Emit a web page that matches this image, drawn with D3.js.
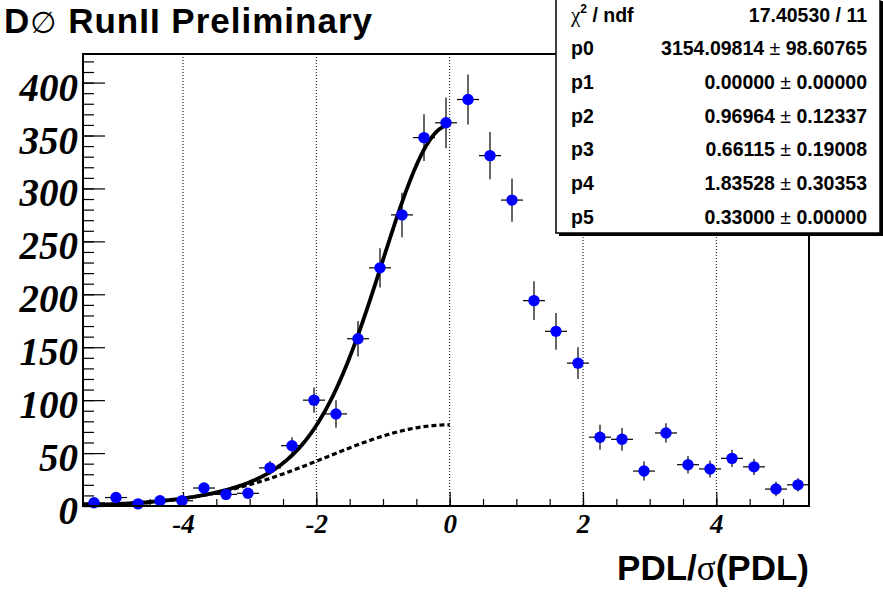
<!DOCTYPE html>
<html>
<head>
<meta charset="utf-8">
<script src="https://cdn.jsdelivr.net/npm/d3@7"></script>
<style>
  html, body { margin: 0; padding: 0; background: #fff; }
  svg { display: block; }
</style>
</head>
<body>
<svg id="chart" width="883" height="592"></svg>
<script>
// histogram bins (centres) and contents
const binCenters = [-5.335, -5.005, -4.675, -4.345, -4.015, -3.685, -3.355, -3.025, -2.695, -2.365,
  -2.035, -1.705, -1.375, -1.045, -0.715, -0.385, -0.055, 0.275, 0.605, 0.935,
  1.265, 1.595, 1.925, 2.255, 2.585, 2.915, 3.245, 3.575, 3.905, 4.235, 4.565, 4.895, 5.225]
const counts = [3, 8, 2, 5, 5, 17, 11, 12, 36, 57,
  100, 87, 158, 225, 275, 348, 362, 384, 331, 289,
  194, 165, 135, 65, 63, 33, 69, 39, 35, 45, 37, 16, 20]
const countErrors = [2.5, 3.5, 2, 3, 3, 5, 4.5, 4.5, 6.5, 8,
  12, 13, 16.7, 18.6, 21, 22, 24, 23.6, 22.4, 20.5,
  18.4, 17.3, 15, 11.8, 10.7, 9, 9.1, 8.2, 8, 8.2, 7.6, 6.9, 6.3]
const halfBin = 0.165

// fit result shown in the stats box
const fitNames = ["p0", "p1", "p2", "p3", "p4", "p5"]
const fitParams = [3154.09814, 0.0, 0.96964, 0.66115, 1.83528, 0.33]
const fitErrors = [98.60765, 0.0, 0.12337, 0.19008, 0.30353, 0.0]
const chi2 = 17.4053
const ndf = 11

const xTicksMajor = [-4, -2, 0, 2, 4]
const yTicksMajor = [0, 50, 100, 150, 200, 250, 300, 350, 400]

const svg = d3.select("#chart")
const m = {left: 83, right: 809, top: 54, bottom: 506}

const x = d3.scaleLinear().domain([-5.5, 5.39]).range([m.left, m.right])
const y = d3.scaleLinear().domain([0, 427]).range([m.bottom, m.top])

// vertical dotted grid
svg.append("g")
  .selectAll("line")
  .data(xTicksMajor)
  .join("line")
  .attr("x1", (d) => x(d))
  .attr("x2", (d) => x(d))
  .attr("y1", m.top)
  .attr("y2", m.bottom)
  .attr("stroke", "#000")
  .attr("stroke-width", 1)
  .attr("stroke-dasharray", "1,2")

// axes (ticks inside the frame, ROOT style)
const tickFont = "'Liberation Serif', 'Times New Roman', serif"

const yMinor = svg.append("g").attr("transform", `translate(${m.left},0)`)
  .call(d3.axisLeft(y).tickValues(d3.range(0, 421, 10)).tickSize(-11).tickFormat(""))
const yMajor = svg.append("g").attr("transform", `translate(${m.left},0)`)
  .call(d3.axisLeft(y).tickValues(yTicksMajor).tickSize(-22).tickPadding(5).tickFormat((d) => String(d)))
yMajor.selectAll("text")
  .attr("dy", null)
  .attr("y", 17.5)
  .attr("font-family", tickFont)
  .attr("font-weight", "bold")
  .attr("font-style", "italic")
  .attr("font-size", 39)
  .attr("fill", "#000")

const xMinor = svg.append("g").attr("transform", `translate(0,${m.bottom})`)
  .call(d3.axisBottom(x).tickValues(d3.range(-5, 5.01, 0.5)).tickSize(-7).tickFormat(""))
const xMajor = svg.append("g").attr("transform", `translate(0,${m.bottom})`)
  .call(d3.axisBottom(x).tickValues(xTicksMajor).tickSize(-14).tickFormat((d) => String(d)))
xMajor.selectAll("text")
  .attr("dy", null)
  .attr("y", 27)
  .attr("font-family", tickFont)
  .attr("font-weight", "bold")
  .attr("font-style", "italic")
  .attr("font-size", 27)
  .attr("fill", "#000")

for (const g of [yMinor, yMajor, xMinor, xMajor]) {
  g.select(".domain").remove()
  g.selectAll(".tick line").attr("stroke", "#000").attr("stroke-width", 1.2)
}

// fit functions: double gaussian, and its wide component
const gaus = (v, mu, s) => Math.exp(-0.5 * ((v - mu) / s) ** 2) / (Math.sqrt(2 * Math.PI) * s)
const [p0, p1, p2, p3, p4, p5] = fitParams
const fitTotal = (v) => p0 * p5 * (p3 * gaus(v, p1, p2) + (1 - p3) * gaus(v, p1, p4))
const fitWide = (v) => p0 * p5 * (1 - p3) * gaus(v, p1, p4)
const xs = d3.range(-5.5, 0.0001, 0.02)

const line = (f) => d3.line().x((d) => x(d)).y((d) => y(f(d)))

svg.append("path")
  .datum(xs)
  .attr("fill", "none")
  .attr("stroke", "#000")
  .attr("stroke-width", 3.2)
  .attr("stroke-dasharray", "5,3")
  .attr("d", line(fitWide))

svg.append("path")
  .datum(xs)
  .attr("fill", "none")
  .attr("stroke", "#000")
  .attr("stroke-width", 3.8)
  .attr("d", line(fitTotal))

// data points with error bars
const pts = svg.append("g")
binCenters.forEach((c, i) => {
  const v = counts[i]
  const e = countErrors[i]
  pts.append("line")
    .attr("x1", x(c - halfBin)).attr("x2", x(c + halfBin))
    .attr("y1", y(v)).attr("y2", y(v))
    .attr("stroke", "#000").attr("stroke-width", 1.2)
  pts.append("line")
    .attr("x1", x(c)).attr("x2", x(c))
    .attr("y1", y(Math.max(0, v - e))).attr("y2", y(v + e))
    .attr("stroke", "#000").attr("stroke-width", 1.2)
})
pts.selectAll("circle")
  .data(binCenters)
  .join("circle")
  .attr("cx", (d) => x(d))
  .attr("cy", (d, i) => y(counts[i]))
  .attr("r", 5.7)
  .attr("fill", "#0000ff")

// frame
svg.append("rect")
  .attr("x", m.left)
  .attr("y", m.top)
  .attr("width", m.right - m.left)
  .attr("height", m.bottom - m.top)
  .attr("fill", "none")
  .attr("stroke", "#000")
  .attr("stroke-width", 2)

// title
const title = svg.append("text")
  .attr("x", 4)
  .attr("y", 33)
  .attr("font-family", "'Liberation Sans', Arial, sans-serif")
  .attr("font-weight", "bold")
  .attr("font-size", 35)
  .attr("letter-spacing", 1)
  .attr("fill", "#000")
title.append("tspan").text("D")
title.append("tspan").attr("font-family", "'DejaVu Sans', sans-serif").attr("font-weight", "normal").attr("font-size", 30).text("∅")
title.append("tspan").text(" RunII Preliminary")

// x axis title
const xt = svg.append("text")
  .attr("x", m.right)
  .attr("y", 580)
  .attr("text-anchor", "end")
  .attr("font-family", "'Liberation Sans', Arial, sans-serif")
  .attr("font-weight", "bold")
  .attr("font-size", 35)
  .attr("fill", "#000")
xt.append("tspan").text("PDL/")
xt.append("tspan").attr("font-family", "'Liberation Serif', serif").attr("font-weight", "normal").text("σ")
xt.append("tspan").text("(PDL)")

// stats box
const box = {x: 556, y: -2, w: 324, h: 235}
svg.append("rect")
  .attr("x", box.x + 3).attr("y", box.y + 3)
  .attr("width", box.w).attr("height", box.h)
  .attr("fill", "#000")
svg.append("rect")
  .attr("x", box.x).attr("y", box.y)
  .attr("width", box.w).attr("height", box.h)
  .attr("fill", "#fff")
  .attr("stroke", "#000")
  .attr("stroke-width", 1.5)

const statFont = "'Liberation Sans', Arial, sans-serif"
const statSize = 19.5
const rowY = (i) => 21.5 + i * 33.7
const labelX = 571
const valueX = 867

const chiLabel = svg.append("text")
  .attr("x", labelX).attr("y", rowY(0))
  .attr("font-family", statFont).attr("font-weight", "bold").attr("font-size", statSize)
chiLabel.append("tspan").attr("font-family", "'Liberation Serif', serif").attr("font-weight", "normal").attr("font-size", 21).text("χ")
chiLabel.append("tspan").attr("dy", -9).attr("font-size", 12).text("2")
chiLabel.append("tspan").attr("dy", 9).text(" / ndf")

svg.append("text")
  .attr("x", valueX).attr("y", rowY(0))
  .attr("text-anchor", "end")
  .attr("font-family", statFont).attr("font-weight", "bold").attr("font-size", statSize)
  .text(`${chi2.toFixed(5)} / ${ndf}`)

fitNames.forEach((name, i) => {
  svg.append("text")
    .attr("x", labelX).attr("y", rowY(i + 1))
    .attr("font-family", statFont).attr("font-weight", "bold").attr("font-size", statSize)
    .text(name)
  const t = svg.append("text")
    .attr("x", valueX).attr("y", rowY(i + 1))
    .attr("text-anchor", "end")
    .attr("font-family", statFont).attr("font-weight", "bold").attr("font-size", statSize)
  t.append("tspan").text(fitParams[i].toFixed(5))
  t.append("tspan").attr("font-weight", "normal").text(" ± ")
  t.append("tspan").text(fitErrors[i].toFixed(5))
})
</script>
</body>
</html>
